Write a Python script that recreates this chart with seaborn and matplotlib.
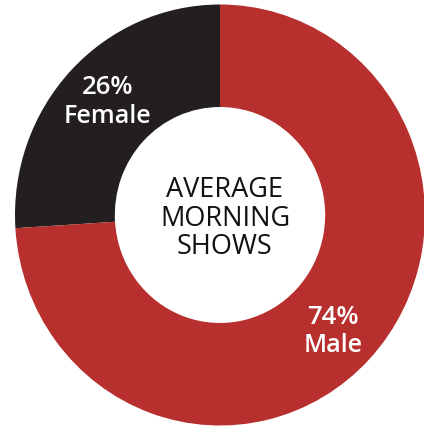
import matplotlib
matplotlib.use("Agg")
import matplotlib.pyplot as plt
import seaborn as sns

categories = ["Female", "Male"]
shares = [26, 74]
colors = ["#231F20", "#B7302E"]
center_lines = ["AVERAGE", "MORNING", "SHOWS"]

sns.set_theme(style="white")
plt.rcParams['font.family'] = ['Open Sans', 'DejaVu Sans']

W, H = 424, 437
fig = plt.figure(figsize=(W / 100, H / 100), dpi=100)
ax = fig.add_axes([0, 0, 1, 1])

ax.pie(shares, colors=colors, startangle=90, counterclock=True,
       radius=1.0, wedgeprops=dict(width=0.487, linewidth=0))

# pixel geometry of the (slightly squashed) donut
cx, cy, rx, ry = 220, 215, 205, 210.5
ax.set_aspect('auto')
ax.set_xlim(-cx / rx, (W - cx) / rx)
ax.set_ylim(-(H - cy) / ry, cy / ry)
ax.axis('off')

def px(x, y):
    return (x - cx) / rx, (cy - y) / ry

label_pos = {"Female": [(108, 87), (108, 116)], "Male": [(333, 317), (333, 345)]}
for cat, val in zip(categories, shares):
    (x1, y1), (x2, y2) = label_pos[cat]
    ax.text(*px(x1, y1), f"{val}%", color="white", fontsize=18.5, fontweight="semibold",
            ha="center", va="center")
    ax.text(*px(x2, y2), cat, color="white", fontsize=18, fontweight="semibold",
            ha="center", va="center")

for i, line in enumerate(center_lines):
    ax.text(*px(225, 190 + 28.5 * i), line, color="#111111", fontsize=19.5,
            ha="center", va="center")

fig.savefig("out.png", dpi=100, facecolor="white")
